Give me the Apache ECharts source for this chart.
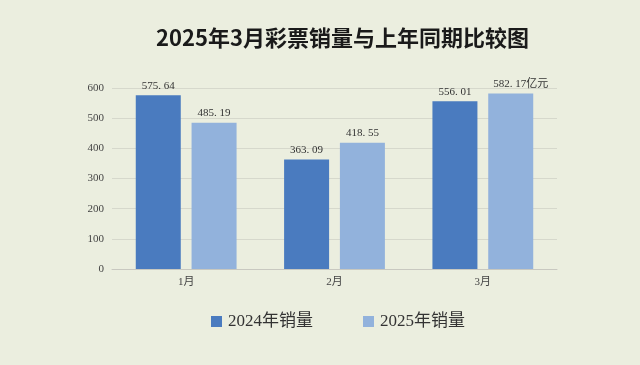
<!DOCTYPE html>
<html><head><meta charset="utf-8">
<script src="https://cdn.jsdelivr.net/npm/echarts@6/dist/echarts.min.js"></script>
<style>html,body{margin:0;padding:0;background:#ebeedf;}#c{width:640px;height:365px;}</style>
</head><body><div id="c"></div>
<script>
const categories = ['1月', '2月', '3月'];
const sales2024 = [575.64, 363.09, 556.01];
const sales2025 = [485.19, 418.55, 582.17];
const yTicks = [0, 100, 200, 300, 400, 500, 600];
const seriesNames = ['2024年销量', '2025年销量'];
const titleText = '2025年3月彩票销量与上年同期比较图';
const unit = '亿元';

const serif = '"Liberation Serif","DejaVu Serif","Noto Sans CJK SC",serif';
const fmt = v => v.toFixed(2).replace('.', '. ');
const last = sales2025.length - 1;
const chart = echarts.init(document.getElementById('c'));
chart.setOption({
  backgroundColor: '#ebeedf',
  animation: false,
  title: {
    text: titleText, left: 151, top: 22,
    textStyle: {fontFamily: '"Noto Sans CJK SC",sans-serif', fontWeight: 'bold', fontSize: 22, color: '#1a1a1a'}
  },
  legend: {
    bottom: 30, left: 206, itemWidth: 11, itemHeight: 11, itemGap: 50,
    icon: 'rect',
    textStyle: {fontFamily: serif, fontSize: 17, color: '#333', padding: [0, 0, 0, 1]},
    data: seriesNames
  },
  grid: {left: 112, right: 83, top: 88, bottom: 96},
  xAxis: {
    type: 'category', data: categories,
    axisLine: {lineStyle: {color: '#c8c8c0'}},
    axisTick: {show: false},
    axisLabel: {fontFamily: serif, fontSize: 11, color: '#444', margin: 8}
  },
  yAxis: {
    type: 'value', min: yTicks[0], max: yTicks[yTicks.length - 1], interval: 100,
    axisLine: {show: false}, axisTick: {show: false},
    splitLine: {lineStyle: {color: '#d6d8cc'}},
    axisLabel: {fontFamily: serif, fontSize: 11, color: '#444', margin: 8}
  },
  series: [
    {
      name: seriesNames[0], type: 'bar', data: sales2024,
      barWidth: 45, barGap: '24%',
      itemStyle: {color: '#4a7bbf'},
      label: {show: true, position: 'top', distance: 4, fontFamily: serif, fontSize: 11, color: '#333',
        formatter: p => fmt(p.value)}
    },
    {
      name: seriesNames[1], type: 'bar',
      data: sales2025.map((v, i) => i === last ? {value: v, label: {offset: [10, 0]}} : v),
      barWidth: 45,
      itemStyle: {color: '#92b2dc'},
      label: {show: true, position: 'top', distance: 4, fontFamily: serif, fontSize: 11, color: '#333',
        formatter: p => fmt(p.value) + (p.dataIndex === last ? unit : '')}
    }
  ]
});
</script></body></html>
